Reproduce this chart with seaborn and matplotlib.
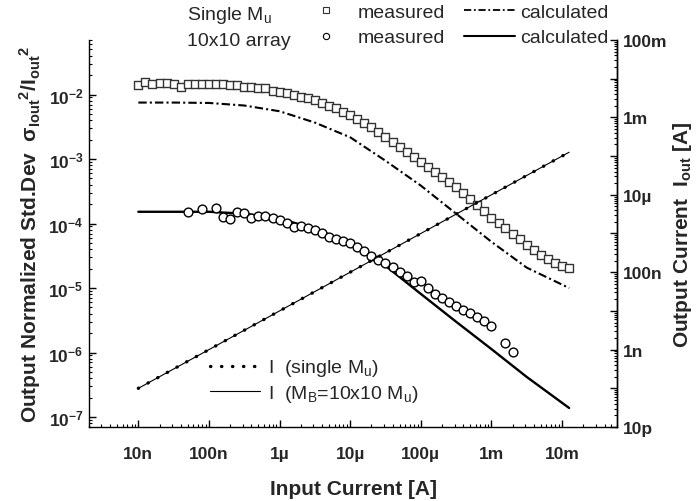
import numpy as np
import pandas as pd
import matplotlib
matplotlib.use("Agg")
import matplotlib.pyplot as plt
import matplotlib.ticker as mticker
from matplotlib.lines import Line2D
import seaborn as sns

# input current grid for the measured points (10 points per decade)
input_grid = [1.00e-8, 1.26e-8, 1.58e-8, 2.00e-8, 2.51e-8, 3.16e-8, 3.98e-8, 5.01e-8, 6.31e-8, 7.94e-8,
              1.00e-7, 1.26e-7, 1.58e-7, 2.00e-7, 2.51e-7, 3.16e-7, 3.98e-7, 5.01e-7, 6.31e-7, 7.94e-7,
              1.00e-6, 1.26e-6, 1.58e-6, 2.00e-6, 2.51e-6, 3.16e-6, 3.98e-6, 5.01e-6, 6.31e-6, 7.94e-6,
              1.00e-5, 1.26e-5, 1.58e-5, 2.00e-5, 2.51e-5, 3.16e-5, 3.98e-5, 5.01e-5, 6.31e-5, 7.94e-5,
              1.00e-4, 1.26e-4, 1.58e-4, 2.00e-4, 2.51e-4, 3.16e-4, 3.98e-4, 5.01e-4, 6.31e-4, 7.94e-4,
              1.00e-3, 1.26e-3, 1.58e-3, 2.00e-3, 2.51e-3, 3.16e-3, 3.98e-3, 5.01e-3, 6.31e-3, 7.94e-3,
              1.00e-2, 1.26e-2]

# single Mu, measured (squares)
single_meas = [1.38e-2, 1.59e-2, 1.43e-2, 1.53e-2, 1.53e-2, 1.48e-2, 1.33e-2, 1.48e-2, 1.48e-2, 1.48e-2,
               1.48e-2, 1.43e-2, 1.43e-2, 1.38e-2, 1.38e-2, 1.33e-2, 1.33e-2, 1.28e-2, 1.24e-2, 1.15e-2,
               1.11e-2, 1.04e-2, 1.00e-2, 9.3e-3, 8.7e-3, 8.1e-3, 7.5e-3, 6.75e-3, 6.07e-3, 5.45e-3,
               4.89e-3, 4.24e-3, 3.67e-3, 3.18e-3, 2.66e-3, 2.23e-3, 1.86e-3, 1.56e-3, 1.30e-3, 1.09e-3,
               9.1e-4, 7.6e-4, 6.37e-4, 5.33e-4, 4.46e-4, 3.73e-4, 3.01e-4, 2.43e-4, 1.96e-4, 1.58e-4,
               1.23e-4, 1.03e-4, 8.6e-5, 6.95e-5, 5.81e-5, 4.69e-5, 3.92e-5, 3.28e-5, 2.84e-5, 2.46e-5,
               2.21e-5, 2.06e-5]

# 10x10 array, measured (circles)
array_x = [5.01e-8, 7.94e-8, 1.26e-7, 1.58e-7, 2.00e-7, 2.51e-7, 3.16e-7, 3.98e-7, 5.01e-7, 6.31e-7,
           7.94e-7, 1.00e-6, 1.26e-6, 1.58e-6, 2.00e-6, 2.51e-6, 3.16e-6, 3.98e-6, 5.01e-6, 6.31e-6,
           7.94e-6, 1.00e-5, 1.26e-5, 1.58e-5, 2.00e-5, 2.51e-5, 3.16e-5, 3.98e-5, 5.01e-5, 6.31e-5,
           7.94e-5, 1.00e-4, 1.26e-4, 1.58e-4, 2.00e-4, 2.51e-4, 3.16e-4, 3.98e-4, 5.01e-4, 6.31e-4,
           7.94e-4, 1.00e-3, 1.58e-3, 2.00e-3]
array_meas = [1.52e-4, 1.70e-4, 1.76e-4, 1.28e-4, 1.19e-4, 1.52e-4, 1.47e-4, 1.23e-4, 1.32e-4, 1.32e-4,
              1.23e-4, 1.15e-4, 1.03e-4, 8.9e-5, 9.2e-5, 8.6e-5, 8.0e-5, 7.2e-5, 6.2e-5, 5.8e-5,
              5.4e-5, 5.0e-5, 4.4e-5, 3.8e-5, 3.16e-5, 2.74e-5, 2.46e-5, 2.13e-5, 1.79e-5, 1.55e-5,
              1.25e-5, 1.29e-5, 1.01e-5, 8.1e-6, 7.0e-6, 6.1e-6, 5.3e-6, 4.6e-6, 4.1e-6, 3.57e-6,
              3.1e-6, 2.59e-6, 1.41e-6, 1.02e-6]

# calculated curves
calc_x = [1e-8, 3.16e-8, 1e-7, 3.16e-7, 1e-6, 3.16e-6, 1e-5, 3.16e-5, 1e-4, 3.16e-4, 1e-3, 3.16e-3, 1.26e-2]
single_calc = [7.5e-3, 7.5e-3, 7.4e-3, 6.75e-3, 5.5e-3, 3.67e-3, 2.17e-3, 9.4e-4, 3.87e-4, 1.42e-4, 5.2e-5, 2.07e-5, 1.0e-5]
array_calc = [1.52e-4, 1.52e-4, 1.52e-4, 1.42e-4, 1.19e-4, 8.3e-5, 5.0e-5, 2.21e-5, 8.1e-6, 3.0e-6, 1.13e-6, 4.18e-7, 1.38e-7]

# output current (right axis)
iout_x = [1e-8, 1e-7, 1e-6, 1e-5, 1e-4, 1e-3, 1e-2, 1.26e-2]
iout_single = [1e-10, 1e-9, 1e-8, 1e-7, 1e-6, 1e-5, 1e-4, 1.26e-4]
iout_array = [1e-10, 1e-9, 1e-8, 1e-7, 1e-6, 1e-5, 1e-4, 1.26e-4]

x_ticks = [1e-8, 1e-7, 1e-6, 1e-5, 1e-4, 1e-3, 1e-2]
x_labels = ['10n', '100n', '1\u00b5', '10\u00b5', '100\u00b5', '1m', '10m']
left_ticks = [1e-7, 1e-6, 1e-5, 1e-4, 1e-3, 1e-2]
left_labels = ['10$^{-7}$', '10$^{-6}$', '10$^{-5}$', '10$^{-4}$', '10$^{-3}$', '10$^{-2}$']
right_ticks = [1e-11, 1e-10, 1e-9, 1e-8, 1e-7, 1e-6, 1e-5, 1e-4, 1e-3, 1e-2, 1e-1]
right_labels = ['10p', '', '1n', '', '100n', '', '10\u00b5', '', '1m', '', '100m']

sns.set_theme(style='ticks')
plt.rcParams['font.family'] = ['Liberation Sans', 'DejaVu Sans']
plt.rcParams['mathtext.default'] = 'regular'
plt.rcParams['axes.linewidth'] = 1.0

fig = plt.figure(figsize=(6.96, 5.02), dpi=100, facecolor='white')
ax = fig.add_axes([89 / 696, 74 / 502, 528 / 696, 387 / 502])
ax2 = ax.twinx()

dashdot = (0, (4, 1.5, 1, 1.5))
dotted = (0, (0.1, 3.2))

sns.lineplot(x=calc_x, y=single_calc, ax=ax, color='black', linewidth=1.5,
             linestyle=dashdot, estimator=None, sort=False, legend=False)
sns.lineplot(x=calc_x, y=array_calc, ax=ax, color='black', linewidth=1.7,
             estimator=None, sort=False, legend=False)
sns.scatterplot(x=input_grid, y=single_meas, ax=ax, marker='s', s=32,
                facecolor='white', edgecolor='#333333', linewidth=1.0, legend=False, zorder=3)
sns.scatterplot(x=array_x, y=array_meas, ax=ax, marker='o', s=40,
                facecolor='white', edgecolor='black', linewidth=1.0, legend=False, zorder=3)

sns.lineplot(x=iout_x, y=iout_array, ax=ax2, color='black', linewidth=0.8,
             estimator=None, sort=False, legend=False)
sns.lineplot(x=iout_x, y=iout_single, ax=ax2, color='black', linewidth=2.4,
             linestyle=dotted, dash_capstyle='round', estimator=None, sort=False,
             legend=False)

for a in (ax, ax2):
    a.set_xscale('log')
    a.set_yscale('log')
ax.set_xlim(2e-9, 6e-2)
ax.set_ylim(7e-8, 7e-2)
ax2.set_ylim(1e-11, 1e-1)

ax.set_xticks(x_ticks)
ax.set_xticklabels(x_labels, fontweight='bold', fontsize=12.5)
ax.xaxis.set_minor_locator(mticker.LogLocator(base=10, subs=np.arange(2, 10), numticks=20))
ax.xaxis.set_minor_formatter(mticker.NullFormatter())
ax.set_yticks(left_ticks)
ax.set_yticklabels(left_labels, fontweight='bold', fontsize=12.5)
ax.yaxis.set_minor_locator(mticker.LogLocator(base=10, subs=np.arange(2, 10), numticks=20))
ax.yaxis.set_minor_formatter(mticker.NullFormatter())
ax2.set_yticks(right_ticks)
ax2.set_yticklabels(right_labels, fontweight='bold', fontsize=12.5)
ax2.yaxis.set_minor_locator(mticker.LogLocator(base=10, subs=np.arange(2, 10), numticks=20))
ax2.yaxis.set_minor_formatter(mticker.NullFormatter())

for a in (ax, ax2):
    a.tick_params(which='major', direction='in', length=5, width=1, color='black', pad=4)
    a.tick_params(which='minor', direction='in', length=2.5, width=0.8, color='black')
    a.spines['top'].set_visible(False)
    for s in a.spines.values():
        s.set_color('black')
ax.tick_params(axis='x', which='major', pad=14)
ax2.spines['left'].set_visible(False)
ax2.spines['bottom'].set_visible(False)

ax.set_xlabel('Input Current [A]', fontsize=15, fontweight='bold', labelpad=13)
ax.set_ylabel('Output Normalized Std.Dev  \u03c3$_{Iout}{}^{2}$/I$_{out}{}^{2}$',
              fontsize=15, fontweight='bold', labelpad=4)
ax2.set_ylabel('Output Current  I$_{out}$ [A]', fontsize=15, fontweight='bold', labelpad=3)

# top legend laid out as a small table
fig.text(187 / 696, 1 - 15 / 502, 'Single M$_u$', fontsize=14, va='center', ha='left')
fig.text(187 / 696, 1 - 41 / 502, '10x10 array', fontsize=14, va='center', ha='left')
top_handles = [
    Line2D([], [], marker='s', linestyle='none', markersize=4, markerfacecolor='white',
           markeredgecolor='#333333', markeredgewidth=0.8),
    Line2D([], [], marker='o', linestyle='none', markersize=4.5, markerfacecolor='white',
           markeredgecolor='black', markeredgewidth=0.8),
    Line2D([], [], color='black', linewidth=1.3, linestyle=dashdot),
    Line2D([], [], color='black', linewidth=1.5),
]
fig.legend(top_handles, ['measured', 'measured', 'calculated', 'calculated'], ncol=2,
           loc='upper left', bbox_to_anchor=(300 / 696, 1 - 3 / 502), frameon=False, fontsize=14,
           handlelength=2.6, handletextpad=0.3, columnspacing=1.0, labelspacing=0.42,
           borderpad=0.05, borderaxespad=0)

bottom_handles = [
    Line2D([], [], color='black', linewidth=2.4, linestyle=dotted, dash_capstyle='round'),
    Line2D([], [], color='black', linewidth=0.8),
]
ax.legend(bottom_handles, ['I  (single M$_u$)', 'I  (M$_B$=10x10 M$_u$)'],
          loc='lower left', bbox_to_anchor=(200 / 696, (502 - 415) / 502),
          bbox_transform=fig.transFigure, frameon=False, fontsize=14,
          handlelength=2.6, handletextpad=0.4, labelspacing=0.25, borderpad=0)

fig.savefig('out.png', dpi=100, facecolor='white')
